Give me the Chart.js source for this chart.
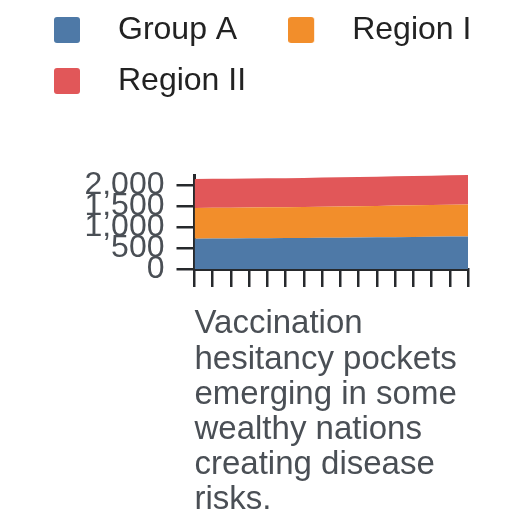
<!DOCTYPE html>
<html>
<head>
<meta charset="utf-8">
<script src="https://cdn.jsdelivr.net/npm/chart.js@4.4.1/dist/chart.umd.min.js"></script>
<style>
html,body{margin:0;padding:0;background:#ffffff;}
#c{display:block;}
</style>
</head>
<body>
<canvas id="c" width="528" height="528" style="width:528px;height:528px"></canvas>
<script>
// ---- data ----
const categories = ['2008','2009','2010','2011','2012','2013','2014','2015','2016','2017','2018','2019','2020','2021','2022','2023'];
const groupA   = [725, 728, 731, 733, 736, 739, 742, 746, 750, 754, 758, 762, 767, 771, 776, 780];
const regionI  = [734, 736, 737, 739, 740, 741, 743, 745, 747, 749, 752, 755, 758, 760, 763, 765];
const regionII = [694, 693, 692, 692, 693, 694, 695, 696, 697, 698, 699, 700, 701, 702, 703, 704];
const seriesNames = ['Group A', 'Region I', 'Region II'];
const yTicks = [0, 500, 1000, 1500, 2000];
const xTitleLines = ['Vaccination', 'hesitancy pockets', 'emerging in some', 'wealthy nations', 'creating disease', 'risks.'];

// ---- styles ----
const seriesColors = ['#4e79a7', '#f28e2b', '#e15759'];
const FONT = '"Liberation Sans", Arial, Helvetica, sans-serif';
const axisColor = '#26292c';
const textGray = '#4a4f55';

const seriesValues = [groupA, regionI, regionII];
const totals = categories.map((_, i) => seriesValues.reduce((s, arr) => s + arr[i], 0));
const yMax = Math.max(...totals);

function swatch(color) {
  const c = document.createElement('canvas');
  c.width = 48; c.height = 26;
  const g = c.getContext('2d');
  g.fillStyle = color;
  const r = 3, w = 26, h = 26;
  g.beginPath();
  g.moveTo(r, 0); g.lineTo(w - r, 0); g.quadraticCurveTo(w, 0, w, r);
  g.lineTo(w, h - r); g.quadraticCurveTo(w, h, w - r, h);
  g.lineTo(r, h); g.quadraticCurveTo(0, h, 0, h - r);
  g.lineTo(0, r); g.quadraticCurveTo(0, 0, r, 0);
  g.closePath(); g.fill();
  return c;
}
const swatches = seriesColors.map(swatch);

const legendSpacer = {
  id: 'legendSpacer',
  beforeLayout(chart) {
    const lg = chart.legend;
    if (lg && !lg._spacerPatched) {
      const orig = lg.fit;
      lg.fit = function () { orig.call(this); this.height += 68; };
      lg._spacerPatched = true;
    }
  }
};

const datasets = seriesNames.map((name, i) => ({
  label: name,
  data: seriesValues[i],
  backgroundColor: seriesColors[i],
  borderColor: 'rgba(0,0,0,0)',
  borderWidth: 0,
  pointRadius: 0,
  pointHoverRadius: 0,
  tension: 0,
  fill: i === 0 ? 'origin' : '-1'
}));

new Chart(document.getElementById('c'), {
  type: 'line',
  data: { labels: categories, datasets },
  plugins: [legendSpacer],
  options: {
    responsive: false,
    animation: false,
    devicePixelRatio: 1,
    layout: { padding: { top: -5, left: 35, right: 10, bottom: 6 } },
    plugins: {
      tooltip: { enabled: false },
      legend: {
        display: true,
        position: 'top',
        align: 'start',
        labels: {
          usePointStyle: true,
          pointStyleWidth: 48,
          boxHeight: 26,
          padding: 19,
          color: '#222222',
          font: { family: FONT, size: 32 },
          generateLabels(chart) {
            const items = Chart.defaults.plugins.legend.labels.generateLabels(chart);
            items.forEach((it, i) => {
              it.pointStyle = swatches[i];
              if (i === 0) it.text = it.text + '\u2002\u2002';
            });
            return items;
          }
        }
      }
    },
    scales: {
      x: {
        type: 'category',
        offset: false,
        z: 1,
        grid: { display: true, drawOnChartArea: false, drawTicks: true, tickLength: 18, color: axisColor, lineWidth: 2.5 },
        border: { display: true, color: axisColor, width: 3 },
        ticks: { display: false },
        title: {
          display: true,
          text: xTitleLines,
          align: 'start',
          color: textGray,
          font: { family: FONT, size: 33, lineHeight: 35.2 / 33 },
          padding: { top: 19.8, bottom: 4 }
        }
      },
      y: {
        type: 'linear',
        stacked: true,
        min: 0,
        max: yMax,
        z: 1,
        grid: { display: true, drawOnChartArea: false, drawTicks: true, tickLength: 18, color: axisColor, lineWidth: 2.5 },
        border: { display: true, color: axisColor, width: 3 },
        ticks: {
          autoSkip: false,
          padding: 12,
          color: textGray,
          font: { family: FONT, size: 32 }
        },
        afterBuildTicks(scale) { scale.ticks = yTicks.map(v => ({ value: v })); },
        afterFit(scale) { scale.width = 159.5; }
      },
      yRightSpace: {
        type: 'linear',
        position: 'right',
        display: true,
        grid: { display: false, drawTicks: false },
        border: { display: false },
        ticks: { display: false },
        afterFit(scale) { scale.width = 50; }
      }
    }
  }
});
</script>
</body>
</html>
